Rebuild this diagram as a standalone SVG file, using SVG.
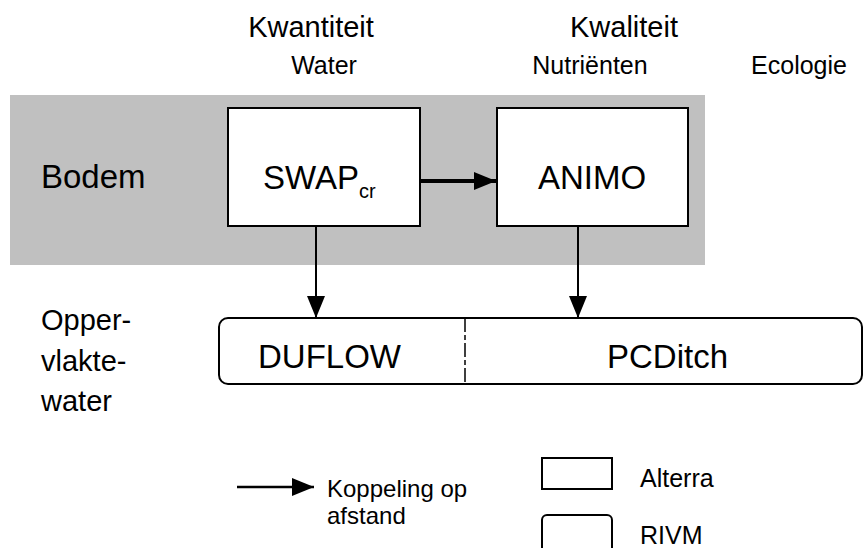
<svg xmlns="http://www.w3.org/2000/svg" width="866" height="548" viewBox="0 0 866 548">
<style>
text{font-family:"Liberation Sans",Arial,sans-serif;fill:#000}
.big{font-size:33px}
.hdr{font-size:29px}
.mid{font-size:24px}
.sm{font-size:25px}
.box{fill:#fff;stroke:#000;stroke-width:2}
</style>
<defs>
<marker id="ahb" markerWidth="22" markerHeight="18" refX="22" refY="9" orient="auto" markerUnits="userSpaceOnUse" viewBox="0 0 22 18">
<path d="M0,0 L22,9 L0,18 Z" fill="#000"/>
</marker>
</defs>
<rect x="10" y="95" width="695" height="170" fill="#c0c0c0"/>
<text class="hdr" x="311" y="37" text-anchor="middle">Kwantiteit</text>
<text class="sm" x="324" y="74" text-anchor="middle">Water</text>
<text class="hdr" x="624" y="37" text-anchor="middle">Kwaliteit</text>
<text class="sm" x="590" y="74" text-anchor="middle">Nutriënten</text>
<text class="sm" x="799" y="74" text-anchor="middle">Ecologie</text>
<text class="big" x="41" y="188">Bodem</text>
<text class="hdr" x="41" y="330">Opper-</text>
<text class="hdr" x="41" y="371">vlakte-</text>
<text class="hdr" x="41" y="411">water</text>
<g id="swap">
<rect class="box" x="228" y="108" width="192" height="118"/>
<text class="big" x="263" y="189">SWAP<tspan font-size="20" dy="9">cr</tspan></text>
</g>
<g id="animo">
<rect class="box" x="497" y="108" width="191" height="118"/>
<text class="big" x="592" y="189" text-anchor="middle">ANIMO</text>
</g>
<g id="surface">
<rect class="box" x="219" y="318" width="643" height="66" rx="9" ry="9"/>
<line x1="465" y1="318" x2="465" y2="384" stroke="#000" stroke-width="1.5" stroke-dasharray="14,3,5,3"/>
<text class="big" x="258" y="368">DUFLOW</text>
<text class="big" x="607" y="368">PCDitch</text>
</g>
<g id="connectors">
<line x1="420" y1="181" x2="496" y2="181" stroke="#000" stroke-width="4" marker-end="url(#ahb)"/>
<line x1="316" y1="226" x2="316" y2="318" stroke="#000" stroke-width="2" marker-end="url(#ahb)"/>
<line x1="578" y1="226" x2="578" y2="318" stroke="#000" stroke-width="2" marker-end="url(#ahb)"/>
</g>
<g id="legend">
<line x1="237" y1="487" x2="314" y2="487" stroke="#000" stroke-width="2.5" marker-end="url(#ahb)"/>
<text class="mid" x="327" y="497">Koppeling op</text>
<text class="mid" x="327" y="524">afstand</text>
<rect class="box" x="542" y="458" width="70" height="31" stroke-width="1.5"/>
<text class="sm" x="640" y="487">Alterra</text>
<rect class="box" x="542" y="515" width="70" height="40" rx="5" ry="5" stroke-width="1.5"/>
<text class="sm" x="640" y="544">RIVM</text>
</g>
</svg>
